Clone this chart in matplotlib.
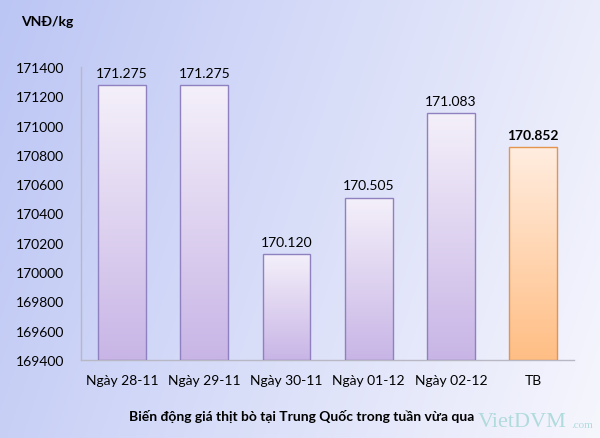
import numpy as np
import matplotlib.pyplot as plt
from matplotlib.colors import LinearSegmentedColormap

plt.rcParams['font.family'] = ['Lato', 'DejaVu Sans']

categories = ["Ngày 28-11", "Ngày 29-11", "Ngày 30-11", "Ngày 01-12", "Ngày 02-12", "TB"]
prices = [171275, 171275, 170120, 170505, 171083, 170852]
labels = ["171.275", "171.275", "170.120", "170.505", "171.083", "170.852"]
yticks = list(range(169400, 171401, 200))

fig = plt.figure(figsize=(6, 4.39), dpi=100)

# nền gradient (trái xanh tím nhạt -> phải gần trắng)
bg = fig.add_axes([0, 0, 1, 1], zorder=0)
xx, yy = np.meshgrid(np.linspace(0, 1, 300), np.linspace(0, 1, 220))
t = np.clip(0.8 * xx + 0.2 * yy, 0, 1)
c0 = np.array([188, 198, 244]) / 255
c1 = np.array([246, 246, 253]) / 255
img = c0[None, None, :] * (1 - t[..., None]) + c1[None, None, :] * t[..., None]
bg.imshow(img, aspect='auto', extent=[0, 1, 0, 1], origin='upper')
bg.axis('off')

ax = fig.add_axes([0.135, 0.178, 0.822, 0.667], zorder=1)
ax.patch.set_alpha(0)

ymin, ymax = 169400, 171400

purple = LinearSegmentedColormap.from_list("p", ["#C8B5E6", "#F4F0FA"])
orange = LinearSegmentedColormap.from_list("o", ["#FFBE84", "#FFEDE0"])
grad = np.linspace(0, 1, 256).reshape(-1, 1)
w = 0.58
for i, (v, lab) in enumerate(zip(prices, labels)):
    last = i == len(prices) - 1
    cmap = orange if last else purple
    edge = "#E3944F" if last else "#8F80C0"
    ax.imshow(grad, cmap=cmap, origin='lower', aspect='auto',
              extent=[i - w / 2, i + w / 2, ymin, v], zorder=2)
    ax.bar(i, v - ymin, bottom=ymin, width=w, facecolor='none',
           edgecolor=edge, linewidth=1.0, zorder=3)
    ax.text(i, v + 45, lab, ha='center', va='bottom', fontsize=10,
            fontweight='bold' if last else 'normal', color='black')

ax.set_xlim(-0.5, len(categories) - 0.5)
ax.set_ylim(ymin, ymax)
ax.set_xticks(range(len(categories)))
ax.set_xticklabels(categories, fontsize=10)
ax.set_yticks(yticks)
ax.set_yticklabels([str(y) for y in yticks], fontsize=10)
ax.tick_params(length=0, pad=10)
ax.tick_params(axis='y', pad=12)
for s in ['top', 'right']:
    ax.spines[s].set_visible(False)
for s in ['left', 'bottom']:
    ax.spines[s].set_color('#B8B8C4')
    ax.spines[s].set_linewidth(1.0)

fig.text(0.035, 0.95, "VNĐ/kg", fontsize=10, fontweight='bold', va='center', ha='left')
fig.text(0.503, 0.052, "Biến động giá thịt bò tại Trung Quốc trong tuần vừa qua",
         fontsize=10, fontweight='bold', ha='center', va='center')

# watermark
fig.text(0.797, 0.038, "VietDVM", fontsize=16, family='Liberation Serif',
         color='#A9D9DA', ha='left', va='center', alpha=0.9)
fig.text(0.952, 0.03, ".com", fontsize=8, family='Liberation Serif',
         color='#A9D9DA', ha='left', va='center', alpha=0.9)

plt.savefig("out.png", dpi=100)
plt.close()
